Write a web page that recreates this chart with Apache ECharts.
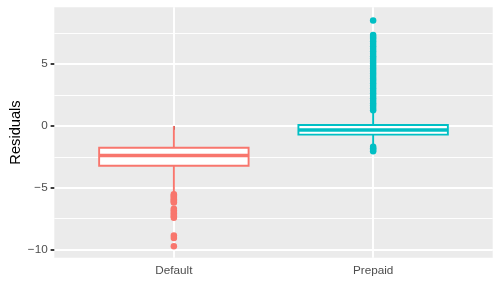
<!DOCTYPE html>
<html>
<head>
<meta charset="utf-8">
<script src="https://cdn.jsdelivr.net/npm/echarts@6/dist/echarts.min.js"></script>
<style>html,body{margin:0;padding:0;background:#fff;}#c{width:500px;height:300px;}</style>
</head>
<body>
<div id="c"></div>
<script>
// ---- data ----
const categories = ['Default', 'Prepaid'];
const whiskerLow = [-5.4, -1.6];
const q1 = [-3.22, -0.70];
const medians = [-2.38, -0.32];
const q3 = [-1.76, 0.08];
const whiskerHigh = [0.0, 1.15];
const defaultOutliers = [-5.52, -5.62, -5.72, -5.82, -5.92, -6.02, -6.12, -6.18,
  -6.7, -6.82, -6.95, -7.08, -7.2, -7.32, -7.42, -8.85, -9.05, -9.72];
const prepaidOutliers = [1.27, 1.45, 1.65, 1.85, 2.05, 2.25, 2.45, 2.65, 2.85, 3.05,
  3.25, 3.45, 3.65, 3.85, 4.05, 4.25, 4.45, 4.65, 4.85, 5.05, 5.25, 5.45, 5.65, 5.85,
  6.05, 6.25, 6.45, 6.65, 6.85, 7.05, 7.2, 7.36, 8.53, -1.68, -1.8, -1.92, -2.05];
const yMajorTicks = [-10, -5, 0, 5];
const yTitle = 'Residuals';

// ---- layout / style ----
const colors = ['#F8766D', '#00BFC4'];
const FONT = 'Liberation Sans, Arial, Helvetica, sans-serif';
const P = { left: 54.3, top: 7.3, width: 438.4, height: 250.4 };
const yMin = -10.65, yMax = 9.6;
const pxPerUnit = P.height / (yMax - yMin);
const yPix = v => P.top + (yMax - v) * pxPerUnit;
// discrete x: ggplot range 0.4..2.6
const unitPx = P.width / 2.2;
const dataLeft = P.left + 0.6 * unitPx;

const boxData = categories.map((c, i) => [i, whiskerLow[i], q1[i], medians[i], q3[i], whiskerHigh[i]]);
const fmtNum = v => (v < 0 ? '\u2212' + Math.abs(v) : String(v));

const chart = echarts.init(document.getElementById('c'), null, { renderer: 'canvas' });
chart.setOption({
  animation: false,
  backgroundColor: '#ffffff',
  grid: [
    { left: P.left, top: P.top, width: P.width, height: P.height, show: true, backgroundColor: '#EBEBEB', borderWidth: 0, z: -1 },
    { left: P.left, width: P.width, top: yPix(7.5), height: yPix(-10) - yPix(7.5) },
    { left: P.left, width: P.width, top: yPix(yMajorTicks[yMajorTicks.length - 1]), height: yPix(-10) - yPix(yMajorTicks[yMajorTicks.length - 1]) },
    { left: dataLeft, width: unitPx, top: P.top, height: P.height }
  ],
  xAxis: [
    { gridIndex: 0, type: 'value', show: false },
    { gridIndex: 1, type: 'value', show: false },
    { gridIndex: 2, type: 'value', show: false },
    {
      gridIndex: 3, type: 'category', data: categories, boundaryGap: false,
      axisLine: { show: false },
      axisTick: { show: true, length: 3.67, lineStyle: { color: '#333333', width: 1.9 } },
      axisLabel: { color: '#4D4D4D', fontSize: 11.73, fontFamily: FONT, margin: 7 },
      splitLine: { show: true, lineStyle: { color: '#FFFFFF', width: 1.9 } }
    }
  ],
  yAxis: [
    {
      gridIndex: 0, type: 'value', min: yMin, max: yMax,
      name: yTitle, nameLocation: 'middle', nameGap: 31, nameRotate: 90,
      nameTextStyle: { color: '#000000', fontSize: 14.67, fontFamily: FONT },
      axisLine: { show: false }, axisTick: { show: false }, axisLabel: { show: false }, splitLine: { show: false }
    },
    {
      gridIndex: 1, type: 'value', min: -10, max: 7.5, interval: 2.5,
      axisLine: { show: false }, axisTick: { show: false }, axisLabel: { show: false },
      splitLine: { show: true, lineStyle: { color: '#FFFFFF', width: 0.95 } }
    },
    {
      gridIndex: 2, type: 'value', min: yMajorTicks[0], max: yMajorTicks[yMajorTicks.length - 1], interval: 5,
      axisLine: { show: false },
      axisTick: { show: true, length: 3.67, lineStyle: { color: '#333333', width: 1.9 } },
      axisLabel: { color: '#4D4D4D', fontSize: 11.73, fontFamily: FONT, margin: 6.6, formatter: fmtNum, showMinLabel: true, showMaxLabel: true },
      splitLine: { show: true, lineStyle: { color: '#FFFFFF', width: 1.9 } }
    },
    { gridIndex: 3, type: 'value', min: yMin, max: yMax, show: false }
  ],
  series: [
    {
      type: 'scatter', xAxisIndex: 3, yAxisIndex: 3, clip: false,
      symbol: 'circle', symbolSize: 6.5, itemStyle: { color: colors[0], opacity: 1 },
      data: defaultOutliers.map(v => [0, v])
    },
    {
      type: 'scatter', xAxisIndex: 3, yAxisIndex: 3, clip: false,
      symbol: 'circle', symbolSize: 6.5, itemStyle: { color: colors[1], opacity: 1 },
      data: prepaidOutliers.map(v => [1, v])
    },
    {
      type: 'custom', xAxisIndex: 3, yAxisIndex: 3, clip: false,
      data: boxData,
      encode: { x: 0, y: [1, 2, 3, 4, 5] },
      renderItem: function (params, api) {
        const i = api.value(0);
        const x = api.coord([i, 0])[0];
        const hw = api.size([1, 0])[0] * 0.375;
        const yLo = api.coord([i, api.value(1)])[1];
        const yQ1 = api.coord([i, api.value(2)])[1];
        const yMed = api.coord([i, api.value(3)])[1];
        const yQ3 = api.coord([i, api.value(4)])[1];
        const yHi = api.coord([i, api.value(5)])[1];
        const col = colors[i];
        return {
          type: 'group',
          children: [
            { type: 'line', shape: { x1: x, y1: yHi, x2: x, y2: yQ3 }, style: { stroke: col, lineWidth: 1.9 } },
            { type: 'line', shape: { x1: x, y1: yQ1, x2: x, y2: yLo }, style: { stroke: col, lineWidth: 1.9 } },
            { type: 'rect', shape: { x: x - hw, y: yQ3, width: 2 * hw, height: yQ1 - yQ3 }, style: { fill: '#FFFFFF', stroke: col, lineWidth: 1.9 } },
            { type: 'line', shape: { x1: x - hw, y1: yMed, x2: x + hw, y2: yMed }, style: { stroke: col, lineWidth: 3.4 } }
          ]
        };
      }
    }
  ]
});
</script>
</body>
</html>
